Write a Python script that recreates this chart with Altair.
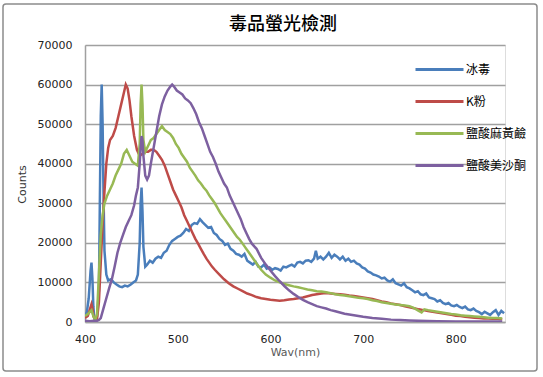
import altair as alt
import pandas as pd

series_names = ["冰毒", "K粉", "鹽酸麻黃鹼", "鹽酸美沙酮"]
series_colors = ["#4a7ebb", "#be4b48", "#98b954", "#7d60a0"]

chart_title = "毒品螢光檢測"
x_ticks = [400, 500, 600, 700, 800]
y_ticks = [0, 10000, 20000, 30000, 40000, 50000, 60000, 70000]

# 冰毒
blue_wl = [400, 402, 404, 406, 407, 408, 409, 410, 411, 413, 415, 416, 417, 418, 419, 420, 421, 423, 425, 428,
           431, 434, 437, 440, 443, 446, 449, 452, 455, 457, 459, 460, 461, 462, 463, 465, 467, 470, 473, 476,
           479, 482, 485, 488, 491, 494, 497, 500, 503, 506, 509, 512, 515, 518, 521, 524, 527, 530, 533, 536,
           539, 542, 545, 548, 551, 554, 557, 560, 563, 566, 569, 572, 575, 578, 581, 584, 587, 590, 593, 596,
           599, 602, 605, 608, 611, 614, 617, 620, 623, 626, 629, 632, 635, 638, 641, 644, 647, 649, 651, 654,
           657, 660, 663, 666, 669, 672, 675, 678, 681, 684, 687, 690, 693, 696, 699, 702, 705, 708, 711, 714,
           717, 720, 723, 726, 729, 732, 735, 738, 741, 744, 747, 750, 753, 756, 759, 762, 765, 768, 771, 774,
           777, 780, 783, 786, 789, 792, 795, 798, 801, 804, 807, 810, 813, 816, 819, 822, 825, 828, 831, 834,
           837, 840, 843, 846, 849, 852]
blue_val = [1500, 2500, 6000, 13000, 15000, 11000, 4000, 1000, 500, 1500, 8000, 30000, 52000, 60000, 50000, 32000, 18000, 12000, 10500, 10800,
            10000, 9500, 9000, 8800, 9200, 9000, 9400, 10000, 10500, 12000, 20000, 30000, 34000, 28000, 19000, 14000, 14500, 15500, 15000, 16000,
            16500, 16200, 17500, 18000, 19500, 20500, 21000, 21500, 21800, 22500, 23500, 23000, 24500, 25000, 24800, 26000, 25200, 24500, 23800, 24000,
            22500, 22000, 21000, 20500, 19500, 19800, 18500, 18000, 17200, 17000, 16500, 17200, 15500, 15000, 14500, 15200, 14000, 13800, 14500, 13500,
            13800, 13200, 13600, 13400, 13000, 14000, 13800, 14200, 14500, 14000, 15000, 15200, 14800, 15500, 15600, 15200, 16000, 18000, 16000, 16500,
            15800, 16500, 17500, 16200, 17000, 16500, 15800, 16500, 15500, 16000, 15200, 15500, 14800, 14500, 13800, 13500, 12800, 12500, 12000, 11800,
            11500, 11000, 11200, 10500, 10200, 10800, 9800, 9500, 9200, 9800, 8800, 8500, 8000, 7500, 7800, 7000, 6800, 7200, 6200, 6000,
            5800, 5200, 5500, 4800, 4500, 4800, 4200, 4000, 4300, 3800, 3500, 3900, 3200, 3000, 3400, 2800, 2500, 2000, 2600, 2200,
            1800, 2500, 3000, 1800, 2800, 2200]

# K粉
red_wl = [400, 403, 405, 407, 408, 409, 411, 413, 415, 417, 419, 421, 423, 425, 427, 430, 433, 436, 439, 442,
          444, 446, 448, 450, 453, 456, 459, 462, 465, 468, 471, 474, 477, 480, 483, 486, 489, 492, 495, 498,
          501, 504, 507, 510, 513, 516, 519, 522, 525, 528, 531, 534, 537, 540, 545, 550, 555, 560, 565, 570,
          575, 580, 585, 590, 595, 600, 605, 610, 615, 620, 625, 630, 635, 640, 645, 650, 655, 660, 665, 670,
          675, 680, 685, 690, 695, 700, 705, 710, 715, 720, 725, 730, 735, 740, 745, 750, 755, 760, 765, 770,
          775, 780, 785, 790, 795, 800, 805, 810, 815, 820, 825, 830, 835, 840, 845, 850]
red_val = [1000, 1500, 3000, 4500, 3500, 1500, 500, 800, 5000, 15000, 25000, 33000, 40000, 44000, 46000, 47000, 49000, 52000, 55000, 58000,
           60000, 59000, 56000, 52000, 47000, 43500, 42000, 42500, 43000, 43000, 43500, 43500, 43000, 42000, 41000, 39500, 37500, 35500, 33500, 32000,
           30500, 29000, 27000, 25500, 24000, 22500, 21000, 19800, 18500, 17200, 16000, 15000, 14000, 13200, 12000, 10800, 9800, 9000, 8400, 7800,
           7200, 6800, 6300, 6000, 5800, 5600, 5500, 5400, 5500, 5700, 5800, 6000, 6200, 6500, 6800, 7000, 7200, 7300, 7200, 7100,
           7000, 6900, 6700, 6600, 6400, 6200, 6000, 5800, 5500, 5200, 5000, 4700, 4500, 4300, 4000, 3700, 3500, 3200, 3000, 2800,
           2600, 2400, 2200, 2000, 1800, 1600, 1500, 1300, 1200, 1100, 1000, 900, 900, 800, 800, 700]

# 鹽酸麻黃鹼
green_wl = [400, 403, 405, 407, 409, 411, 413, 415, 417, 419, 421, 424, 427, 430, 433, 436, 439, 442, 445, 448,
            451, 454, 457, 459, 460, 461, 462, 463, 465, 468, 471, 474, 477, 480, 483, 486, 489, 492, 495, 498,
            501, 504, 507, 510, 513, 516, 519, 522, 525, 528, 531, 534, 537, 540, 543, 546, 549, 552, 555, 558,
            561, 564, 567, 570, 573, 576, 580, 585, 590, 595, 600, 605, 610, 615, 620, 625, 630, 635, 640, 645,
            650, 655, 660, 665, 670, 675, 680, 685, 690, 695, 700, 705, 710, 715, 720, 725, 730, 735, 740, 745,
            750, 755, 760, 763, 766, 770, 775, 780, 785, 790, 795, 800, 805, 810, 815, 820, 825, 830, 835, 840,
            845, 850]
green_val = [1500, 2000, 2500, 3000, 1500, 500, 2000, 12000, 22000, 27000, 30000, 32000, 33500, 35000, 37000, 38500, 40000, 42500, 43500, 42000,
             40500, 40000, 39500, 45000, 55000, 60000, 55000, 46000, 43000, 44500, 46000, 46500, 47500, 48500, 49500, 48500, 48000, 47500, 46500, 45000,
             44000, 42500, 41500, 40500, 39000, 38000, 37000, 35800, 35000, 34000, 33200, 32000, 31000, 30000, 28800, 27500, 26500, 25500, 24500, 23500,
             22500, 21500, 20800, 19800, 18800, 17800, 16500, 14800, 13200, 12000, 11200, 10500, 10000, 9600, 9300, 9000, 8800, 8500, 8200, 8000,
             7800, 7700, 7500, 7300, 7000, 6800, 6700, 6500, 6300, 6100, 6000, 5800, 5500, 5300, 5000, 4800, 4600, 4400, 4300, 4200,
             4000, 3500, 2800, 2400, 3200, 3000, 2800, 2600, 2400, 2200, 2000, 1900, 1700, 1600, 1500, 1400, 1300, 1200, 1100, 1000,
             1000, 900]

# 鹽酸美沙酮
purple_wl = [400, 405, 410, 413, 415, 417, 420, 423, 426, 429, 432, 435, 438, 441, 444, 447, 450, 453, 455, 457,
             459, 460, 461, 462, 463, 465, 467, 469, 471, 474, 477, 480, 483, 486, 489, 492, 494, 496, 499, 502,
             505, 508, 511, 514, 517, 520, 523, 526, 529, 532, 535, 538, 541, 544, 547, 550, 553, 556, 559, 562,
             565, 568, 571, 574, 577, 580, 585, 590, 595, 600, 605, 610, 615, 620, 625, 630, 635, 640, 645, 650,
             655, 660, 665, 670, 675, 680, 685, 690, 695, 700, 710, 720, 730, 740, 750, 760, 780, 800, 820, 850]
purple_val = [300, 200, 300, 300, 500, 1000, 3500, 6000, 8500, 10800, 14000, 17500, 20000, 22000, 24000, 25500, 27000, 29500, 32000, 34000,
              40000, 44000, 47000, 46000, 42000, 37000, 36000, 37000, 40000, 44000, 48000, 52000, 55000, 57000, 58500, 59500, 60000, 59500, 58500, 58000,
              57500, 56500, 56000, 55300, 54000, 52500, 50500, 49000, 47000, 45000, 43000, 41700, 40000, 38000, 36500, 35000, 34000, 32000, 30500, 29000,
              27500, 26000, 24000, 22500, 21000, 19800, 18500, 16200, 14500, 13000, 11600, 10300, 9100, 8000, 7100, 6300, 5600, 5000, 4500, 4000,
              3700, 3400, 3000, 2700, 2400, 2100, 1900, 1700, 1500, 1300, 1000, 800, 600, 500, 400, 300, 200, 150, 100, 100]

frames = []
for name, wl, val in zip(series_names, [blue_wl, red_wl, green_wl, purple_wl],
                         [blue_val, red_val, green_val, purple_val]):
    frames.append(pd.DataFrame({"wl": wl, "counts": val, "series": name}))
df = pd.concat(frames, ignore_index=True)
df["order"] = df["series"].map({n: i for i, n in enumerate(series_names)})

W, H = 420, 277
LEFT, TOP = 85, 45

lines = alt.Chart(df).mark_line(strokeWidth=2.5, clip=True).encode(
    x=alt.X("wl:Q", scale=alt.Scale(domain=[400, 853], nice=False, zero=False),
            axis=alt.Axis(values=x_ticks, title="Wav(nm)", grid=False, ticks=False,
                          labelFlush=False, labelPadding=11, titlePadding=2, labelFontSize=11,
                          labelFont="DejaVu Sans", labelColor="#222222",
                          titleFont="DejaVu Sans", titleFontSize=11, titleFontWeight="normal",
                          titleColor="#595959", domainColor="#a0a0a0", domainWidth=1.5)),
    y=alt.Y("counts:Q", scale=alt.Scale(domain=[0, 70000], nice=False),
            axis=alt.Axis(values=y_ticks, format="d", title="Counts", ticks=False,
                          labelFlush=False, labelPadding=13, labelFontSize=11, labelFont="DejaVu Sans",
                          labelColor="#222222", gridColor="#a0a0a0", gridWidth=1.5,
                          titleFont="DejaVu Sans", titleFontSize=11, titleFontWeight="normal",
                          titleColor="#333333", titleX=-63, titleY=139, titleAngle=270,
                          titleAlign="center", titleBaseline="middle",
                          domainColor="#a0a0a0", domainWidth=1.5)),
    color=alt.Color("series:N", scale=alt.Scale(domain=series_names, range=series_colors),
                    legend=alt.Legend(title=None, orient="none", legendX=329, legendY=-1,
                                      symbolType="stroke", symbolSize=2304, symbolStrokeWidth=3,
                                      labelFont="Noto Sans CJK TC", labelFontSize=12,
                                      labelColor="#000000", labelOffset=1, rowPadding=-2)),
    order=alt.Order("order:Q"),
    detail="series:N",
)

border = alt.Chart(alt.Data(values=[{}])).mark_rect(
    filled=False, stroke="#8c8c8c", strokeWidth=1.5, cornerRadius=3, clip=False
).encode(x=alt.value(3 - LEFT), x2=alt.value(537 - LEFT),
         y=alt.value(4 - TOP), y2=alt.value(371 - TOP))

title = alt.Chart(alt.Data(values=[{"t": chart_title}])).mark_text(
    font="Noto Sans CJK TC", fontSize=18, fontWeight=500, color="#000000",
    align="center", baseline="middle", clip=False
).encode(x=alt.value(283 - LEFT), y=alt.value(25 - TOP), text="t:N")

chart = alt.layer(border, lines, title).properties(
    width=W, height=H,
    autosize=alt.AutoSizeParams(type="none"),
    padding={"left": LEFT, "top": TOP, "right": 543 - LEFT - W, "bottom": 377 - TOP - H},
).configure_view(stroke=None).configure(background="#ffffff")

chart.save("out.html", embed_options={"renderer": "svg", "actions": False})
